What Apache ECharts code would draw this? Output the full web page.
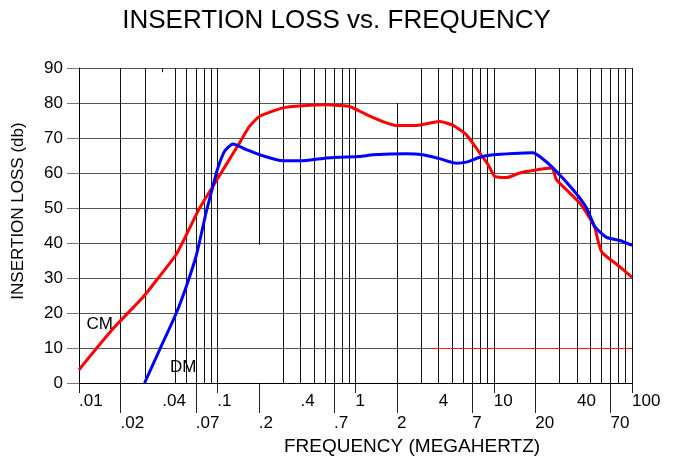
<!DOCTYPE html>
<html>
<head>
<meta charset="utf-8">
<script src="https://cdn.jsdelivr.net/npm/echarts@6.0.0/dist/echarts.min.js"></script>
<style>
  html, body { margin: 0; padding: 0; background: #fff; }
  #chart { width: 673px; height: 465px; }
</style>
</head>
<body>
<div id="chart"></div>
<script>
// curves: frequency in MHz, loss in dB
const cmFreq = [0.01, 0.0176, 0.029, 0.0383, 0.0506, 0.0597, 0.0746, 0.093, 0.116, 0.145, 0.171, 0.203, 0.299, 0.417, 0.615, 0.769, 0.908, 1.2, 1.58, 1.98, 2.76, 4.06, 5.07, 6.34, 7.92, 9.1, 10.2, 12.4, 15.4, 19.2, 26.2, 28.4, 33.6, 41.9, 49.5, 53.8, 56.9, 60.1, 66, 73, 86.3, 100]
const cmLoss = [3.8, 15.5, 24.5, 30.5, 36.8, 42.3, 50, 56.2, 62.4, 68.6, 73.3, 76.2, 78.6, 79.2, 79.5, 79.3, 79, 76.7, 74.7, 73.6, 73.6, 74.7, 73.6, 70.9, 65.7, 62.4, 59, 58.7, 60, 60.7, 61.4, 58.1, 55.2, 51.4, 47.1, 44.4, 40.5, 37.6, 36, 34.7, 32.4, 30.2]

const dmFreq = [0.0298, 0.0383, 0.0506, 0.0597, 0.0706, 0.0834, 0.093, 0.101, 0.113, 0.13, 0.162, 0.203, 0.299, 0.441, 0.615, 0.769, 1.07, 1.34, 2.33, 3.08, 4.06, 5.37, 6.34, 7.92, 9.89, 13.8, 19.2, 21.5, 26.9, 37.5, 46.9, 53.8, 65.4, 81.6, 100]
const dmLoss = [0, 9.5, 20, 27.6, 36.5, 49, 56.2, 61.4, 66.2, 68.3, 66.7, 65.2, 63.5, 63.6, 64.3, 64.5, 64.7, 65.2, 65.5, 65.2, 64.1, 62.8, 63.1, 64.5, 65.2, 65.6, 65.8, 64.7, 61.4, 55.2, 50, 44.7, 41.6, 40.7, 39.3]

// curve names written on the plot: [text, freq, loss]
const notes = [['CM', 0.0141, 16.7], ['DM', 0.0567, 4.4]]

// tick labels, in two rows under the axis
const upperLabels = [0.01, 0.04, 0.1, 0.4, 1, 4, 10, 40, 100]
const upperTicks = [0.01, 0.1, 1, 10, 100]
const lowerLabels = [0.02, 0.07, 0.2, 0.7, 2, 7, 20, 70]

// vertical grid lines of the log paper
const gridFreq = [0.02, 0.03, 0.05, 0.06, 0.07, 0.08, 0.09, 0.1, 0.3, 0.4, 0.5, 0.6, 0.7, 0.8, 0.9, 1, 3, 4, 5, 6, 7, 8, 9, 10, 20, 30, 40, 50, 60, 70, 80, 90, 100]
// lines that only run part way: [freq, from dB, to dB]
const partGrid = [[0.04, 90, 88.8], [0.2, 90, 39.5], [2, 80, 0]]
// the 10 dB line is drawn red from here on
const redLineFrom = 3.5

const font = '"Liberation Sans", Arial, sans-serif'

function fmtFreq(v) {
  let x = +Number(v).toPrecision(2)
  return x < 1 ? String(x).replace(/^0/, '') : String(x)
}

let lines = gridFreq.map(f => ({ xAxis: f }))
partGrid.forEach(p => lines.push([{ coord: [p[0], p[1]] }, { coord: [p[0], p[2]] }]))
lines.push([
  { coord: [redLineFrom, 10], lineStyle: { color: '#ff2020' } },
  { coord: [100, 10] }
])

let chart = echarts.init(document.getElementById('chart'))
chart.setOption({
  animation: false,
  textStyle: { fontFamily: font },
  title: [{
    text: 'INSERTION LOSS vs. FREQUENCY',
    left: 'center',
    top: 8,
    padding: 0,
    textStyle: { fontSize: 26, fontWeight: 'normal', color: '#000', fontFamily: font }
  }, {
    text: 'FREQUENCY (MEGAHERTZ)',
    left: 412,
    top: 437,
    padding: 0,
    textAlign: 'center',
    textStyle: { fontSize: 19, fontWeight: 'normal', color: '#000', fontFamily: font }
  }],
  graphic: [{
    type: 'text',
    x: 18,
    y: 211,
    rotation: Math.PI / 2,
    style: {
      text: 'INSERTION LOSS (db)',
      font: '17px ' + font,
      fill: '#000',
      align: 'center',
      verticalAlign: 'middle'
    }
  }],
  grid: { left: 79, top: 68, width: 553, height: 315 },
  xAxis: [{
    type: 'log',
    logBase: 10,
    min: 0.01,
    max: 100,
    position: 'bottom',
    axisLine: { lineStyle: { color: '#000', width: 1 } },
    axisTick: { customValues: upperTicks, length: 10, lineStyle: { color: '#222' } },
    splitLine: { show: false },
    minorTick: { show: false },
    axisLabel: {
      customValues: upperLabels,
      formatter: fmtFreq,
      align: 'left',
      margin: 10,
      fontSize: 17,
      color: '#000',
      hideOverlap: false
    }
  }, {
    type: 'log',
    logBase: 10,
    min: 0.01,
    max: 100,
    position: 'bottom',
    axisLine: { show: false },
    axisTick: { customValues: lowerLabels, length: 30, lineStyle: { color: '#222' } },
    splitLine: { show: false },
    axisLabel: {
      customValues: lowerLabels,
      formatter: fmtFreq,
      align: 'left',
      margin: 32,
      fontSize: 17,
      color: '#000',
      hideOverlap: false
    }
  }],
  yAxis: {
    type: 'value',
    min: 0,
    max: 90,
    interval: 10,
    axisLine: { show: true, lineStyle: { color: '#000' } },
    axisTick: { show: true, length: 12, lineStyle: { color: '#777' } },
    splitLine: { lineStyle: { color: '#555', width: 1 } },
    axisLabel: { margin: 16, fontSize: 17, color: '#000' }
  },
  series: [{
    name: 'grid',
    type: 'line',
    data: [],
    silent: true,
    markLine: {
      silent: true,
      symbol: 'none',
      z: 1,
      label: { show: false },
      lineStyle: { type: 'solid', color: '#111', width: 1 },
      data: lines
    }
  }, {
    name: 'CM',
    type: 'line',
    data: cmFreq.map((f, i) => [f, cmLoss[i]]),
    smooth: 0.2,
    showSymbol: false,
    z: 3,
    lineStyle: { color: '#ff0000', width: 3 },
    markPoint: {
      symbol: 'circle',
      symbolSize: 1,
      itemStyle: { color: 'rgba(0,0,0,0)' },
      label: { show: true, position: 'inside', color: '#000', fontSize: 17, formatter: p => p.name },
      data: [{ name: notes[0][0], coord: [notes[0][1], notes[0][2]] }]
    }
  }, {
    name: 'DM',
    type: 'line',
    data: dmFreq.map((f, i) => [f, dmLoss[i]]),
    smooth: 0.2,
    showSymbol: false,
    z: 4,
    lineStyle: { color: '#0000ff', width: 3 },
    markPoint: {
      symbol: 'circle',
      symbolSize: 1,
      itemStyle: { color: 'rgba(0,0,0,0)' },
      label: { show: true, position: 'inside', color: '#000', fontSize: 17, formatter: p => p.name },
      data: [{ name: notes[1][0], coord: [notes[1][1], notes[1][2]] }]
    }
  }]
})
</script>
</body>
</html>
